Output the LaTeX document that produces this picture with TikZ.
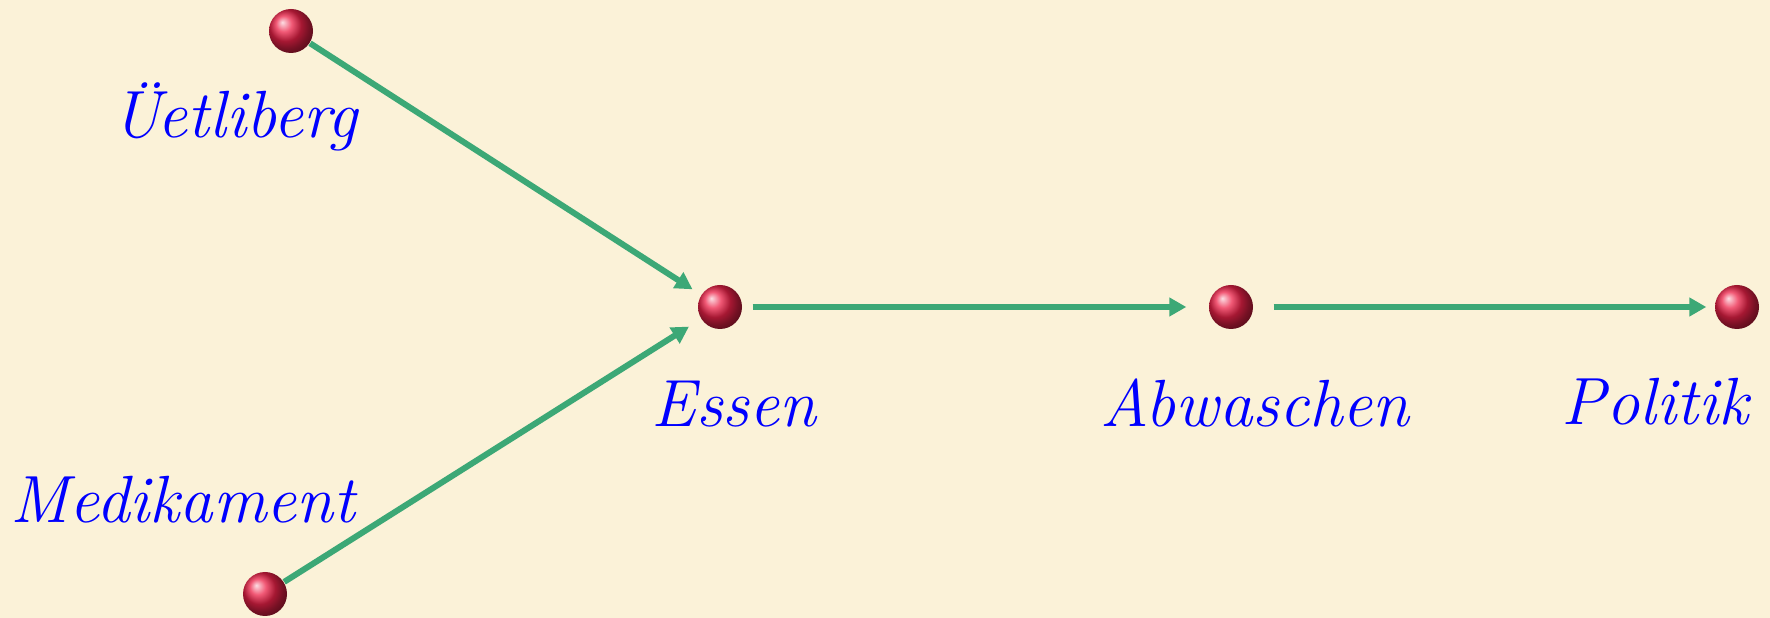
\documentclass[tikz,border=0pt]{standalone}
\usetikzlibrary{arrows.meta}
\definecolor{paper}{RGB}{251,242,216}
\definecolor{linkgreen}{RGB}{60,168,118}
\definecolor{beadred}{RGB}{236,34,72}
\begin{document}
\begin{tikzpicture}[
  >={Triangle[length=1.7mm,width=1.8mm]},
  every node/.style={font=\fontsize{19}{21}\selectfont\itshape},
  bead/.style={circle, minimum size=4.4mm, inner sep=0pt, shading=ball, ball color=beadred},
  word/.style={text=blue, anchor=base},
  link/.style={->, draw=linkgreen, line width=0.6mm}
]
  \fill[paper] (0,0) rectangle (17.7,6.18);
  \useasboundingbox (0,0) rectangle (17.7,6.18);
  % beads
  \node[bead] (uet) at (2.91,5.87) {};
  \node[bead] (med) at (2.65,0.24) {};
  \node[bead] (ess) at (7.20,3.11) {};
  \node[bead] (abw) at (12.31,3.11) {};
  \node[bead] (pol) at (17.37,3.11) {};
  % words
  \node[word] (uetw) at (2.35,4.80) {Üetliberg};
  \node[word] (medw) at (1.83,0.95) {Medikament};
  \node[word] (essw) at (7.34,1.91) {Essen};
  \node[word] (abww) at (12.55,1.91) {Abwaschen};
  \node[word] (polw) at (16.55,1.93) {Politik};
  % links
  \draw[link, shorten >=1mm] (uet) -- (ess);
  \draw[link, shorten >=1.4mm] (med) -- (ess);
  \draw[link, shorten <=1mm, shorten >=2.2mm] (ess) -- (abw);
  \draw[link, shorten <=2mm, shorten >=0.8mm] (abw) -- (pol);
\end{tikzpicture}
\end{document}
